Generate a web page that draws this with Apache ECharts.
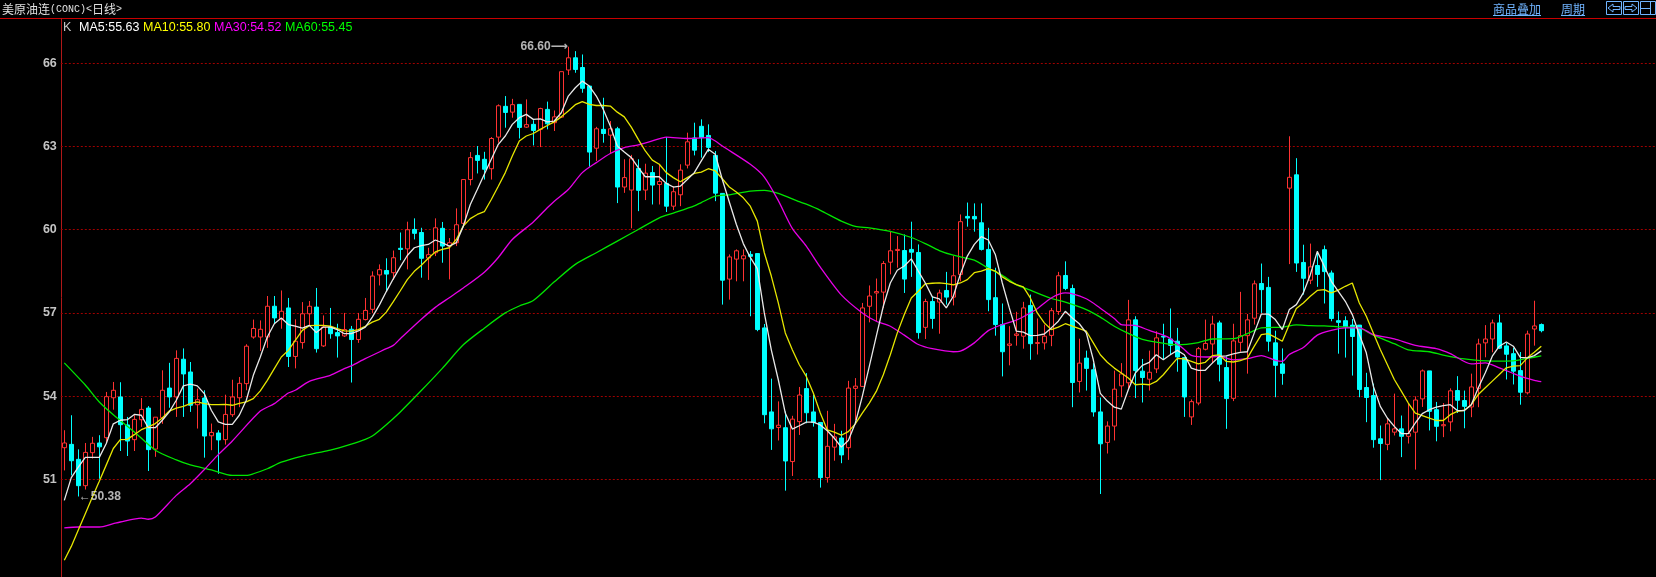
<!DOCTYPE html>
<html><head><meta charset="utf-8">
<style>html,body{margin:0;padding:0;background:#000}#c{width:1656px;height:577px}</style>
<script src="https://cdn.jsdelivr.net/npm/echarts@6/dist/echarts.min.js"></script>
</head><body><div id="c"></div>
<script>
const opens=[52.14,52.26,51.72,50.77,51.96,52.31,52.50,53.94,53.97,52.96,
52.43,53.15,53.57,52.09,53.22,54.29,53.97,55.33,54.87,53.69,
53.93,52.57,52.67,52.43,53.33,53.94,54.45,56.13,56.13,56.13,
57.24,56.79,57.18,55.43,55.93,56.97,57.21,55.81,56.49,56.29,
56.17,56.41,56.04,56.76,57.13,58.37,58.53,58.45,59.33,59.31,
60.01,59.9,58.98,59.17,60.05,59.41,59.53,60.23,61.81,62.68,
62.54,62.2,63.34,64.45,64.24,64.52,63.7,63.8,63.62,64.34,
63.86,64.06,65.76,66.2,65.85,65.18,62.94,63.62,63.41,63.64,
61.54,61.43,62.21,61.43,62.06,61.63,61.67,60.85,61.26,62.33,
63.31,63.73,63.4,62.68,61.31,58.22,58.94,58.95,59.11,59.14,
56.46,53.43,52.87,52.86,51.64,53.08,54.27,53.43,53.05,51.06,
52.16,52.49,52.14,54.28,54.35,57.24,57.72,57.75,58.83,59.25,
59.25,59.29,59.18,56.48,57.41,57.39,57.81,57.57,58.39,60.48,
60.48,60.25,59.29,57.55,56.58,55.83,56.19,56.16,57.27,55.9,
55.92,56.19,57.05,58.35,57.88,54.53,55.37,54.95,53.43,52.33,
52.92,54.37,54.48,56.75,54.9,54.61,54.98,56.16,56.06,55.98,
55.39,53.25,53.75,55.69,55.88,56.64,55.03,53.92,55.94,56.18,
56.81,58.06,57.92,55.92,55.16,61.5,61.98,58.82,58.18,58.71,
59.28,58.44,56.72,56.72,56.56,56.56,54.31,54.02,52.46,52.26,
52.7,52.82,52.55,52.7,53.9,54.91,53.51,52.93,53.07,54.2,
53.84,53.61,54.28,55.92,56.06,56.64,55.81,55.53,54.92,54.12,
56.42,56.58];
const closes=[52.31,51.67,50.77,51.97,52.30,52.17,53.98,54.21,52.97,52.38,
53.16,53.52,52.07,53.24,54.21,53.97,55.36,54.80,53.67,53.87,
52.56,52.69,52.42,53.34,53.97,54.46,55.80,56.44,56.41,57.24,
56.82,57.06,55.43,55.98,56.97,57.24,55.71,56.49,56.25,56.17,
56.40,56.04,56.77,57.09,58.33,58.56,58.40,58.99,59.29,60.0,
59.87,58.97,59.1,60.07,59.41,59.53,60.18,61.81,62.6,62.5,
62.18,63.29,64.47,64.23,64.51,63.69,63.79,63.58,64.37,63.82,
64.07,65.7,66.2,65.78,65.1,62.8,63.64,63.47,63.64,61.54,
61.88,62.56,61.42,62.04,61.61,61.74,60.85,61.37,62.15,63.17,
62.87,63.32,62.97,61.32,58.18,59.02,59.24,59.06,59.04,56.4,
53.33,52.82,52.95,51.66,53.17,54.04,53.4,53.05,51.06,52.19,
52.53,51.88,54.29,54.36,57.18,57.61,57.77,58.78,59.24,59.29,
58.22,59.19,56.29,57.41,56.8,57.72,57.57,58.34,60.29,60.42,
60.39,59.29,57.48,56.58,55.6,55.88,56.24,57.18,55.89,55.93,
56.16,57.08,58.34,57.88,54.49,55.19,55.0,53.43,52.28,52.92,
54.25,54.8,56.75,54.92,54.67,54.86,56.1,56.13,55.83,55.41,
53.97,53.8,55.71,55.9,56.6,55.15,53.91,55.99,56.18,56.75,
58.05,57.84,55.98,55.11,54.82,61.89,58.8,58.25,58.66,58.39,
58.49,56.8,56.66,56.5,56.15,54.24,53.95,52.43,52.29,53.0,
52.82,52.55,52.65,53.86,54.91,53.45,52.91,52.97,54.19,53.85,
53.63,54.33,55.88,56.06,56.64,55.73,55.51,54.9,54.14,56.24,
56.53,56.36];
const highs=[52.77,53.31,52.08,52.31,52.53,52.59,54.15,54.51,54.50,53.25,
53.31,53.93,53.64,53.24,54.93,55.2,55.65,55.72,55.23,54.27,
54.21,53.01,52.77,54.05,54.59,54.69,55.87,56.76,56.73,57.61,
57.61,57.81,57.54,56.77,57.39,57.43,57.9,56.91,57.18,56.61,
57.0,56.53,57.0,57.54,58.5,58.75,58.97,59.25,59.9,60.29,
60.41,60.07,59.35,60.41,60.28,59.7,60.77,61.81,62.8,63.02,
62.81,63.34,64.52,64.82,64.72,64.52,64.7,63.95,64.4,64.62,
64.3,65.7,66.6,66.44,66.32,65.18,63.71,64.76,63.92,63.71,
62.54,62.7,62.54,62.38,62.3,62.36,63.34,61.57,62.36,63.5,
63.86,63.98,63.8,62.84,61.31,59.11,59.29,59.29,59.23,59.14,
56.6,54.63,53.81,53.45,53.29,54.33,54.83,54.05,53.05,53.47,
53.0,52.75,54.55,54.65,57.36,57.99,58.24,58.87,59.95,59.77,
59.83,60.29,59.47,57.51,57.6,57.84,58.48,59.05,60.55,60.98,
60.95,60.95,60.07,58.63,57.34,56.52,57.04,57.4,57.66,56.8,
56.58,57.18,58.48,58.86,58.02,56.07,55.64,55.19,53.95,53.09,
54.92,55.19,57.47,56.88,55.34,55.64,56.34,56.61,57.16,56.46,
55.39,53.88,55.77,56.76,56.9,56.72,55.43,56.61,57.76,56.96,
58.17,58.78,58.3,56.36,55.72,63.37,62.58,59.46,59.5,59.23,
59.43,58.53,57.05,56.88,56.78,56.56,54.84,54.45,52.94,53.21,
54.09,53.3,53.75,53.99,54.96,54.91,53.79,53.75,54.28,54.72,
54.2,54.81,56.07,56.56,56.76,56.94,55.92,55.74,55.59,56.36,
57.44,56.62];
const lows=[51.32,51.14,50.38,50.63,51.75,51.02,52.35,53.51,52.02,51.84,
52.02,52.89,51.30,51.81,53.0,53.58,53.25,53.25,53.43,52.83,
51.78,52.05,51.2,52.25,53.25,53.6,54.21,56.07,55.63,55.74,
56.61,56.43,55.05,55.0,55.71,56.55,55.57,55.77,56.07,55.39,
56.13,54.49,55.92,56.73,57.0,57.99,57.79,58.19,58.9,58.57,
59.65,58.27,58.19,59.05,58.81,58.21,59.41,60.13,61.6,62.03,
61.81,61.81,63.14,63.68,64.04,63.29,63.67,63.04,62.98,63.62,
63.56,64.04,65.58,65.66,64.94,62.27,62.48,63.14,62.75,60.96,
61.33,60.05,60.67,61.07,60.91,60.91,60.64,60.71,60.85,62.21,
62.68,62.6,62.8,61.03,57.3,57.48,58.14,58.14,56.88,56.34,
53.02,52.06,52.4,50.59,51.12,52.6,53.02,52.9,50.7,50.88,
51.67,51.58,51.7,53.14,54.33,56.66,56.7,57.18,58.39,58.63,
57.72,58.3,56.07,56.06,56.43,56.25,57.3,57.27,58.14,60.11,
59.93,59.25,57.06,56.18,54.71,55.11,55.82,55.71,55.31,55.5,
55.68,55.8,56.93,57.82,53.6,54.13,54.2,53.26,50.47,51.93,
52.4,53.96,54.23,53.93,53.77,54.2,54.83,55.31,55.49,54.88,
53.25,52.96,53.67,55.65,55.19,54.53,52.82,53.82,55.6,54.81,
56.58,57.0,55.61,53.96,54.41,58.76,58.48,57.66,58.04,57.94,
57.34,56.7,55.53,55.39,54.74,53.96,53.06,52.14,50.97,52.05,
52.58,51.8,52.29,51.35,53.61,52.76,52.37,52.52,52.73,53.39,
52.84,53.24,53.6,55.4,55.58,55.7,54.6,54.42,53.69,54.06,
55.82,56.3];
const ma5=[50.24,51.06,51.44,51.79,51.79,51.79,52.29,53.0,53.13,53.15,
53.34,53.31,52.86,52.86,53.13,53.43,53.85,54.37,54.43,54.37,
54.09,53.49,53.07,52.98,52.98,53.31,53.85,54.75,55.41,56.13,
56.61,56.82,56.58,56.52,56.45,56.55,56.29,56.49,56.49,56.4,
56.25,56.25,56.35,56.49,56.85,57.28,57.77,58.23,58.66,59.07,
59.35,59.43,59.47,59.63,59.53,59.41,59.53,60.13,60.91,61.45,
62.0,62.54,63.08,63.38,63.8,64.04,64.16,63.98,64.0,63.89,
63.92,64.22,64.82,65.12,65.36,65.18,64.82,64.34,63.74,63.02,
62.8,62.6,62.24,61.91,61.91,61.91,61.67,61.54,61.57,61.81,
62.06,62.48,62.9,62.72,61.81,61.0,60.2,59.5,59.0,58.6,
57.0,55.67,54.59,53.39,52.81,52.93,53.06,53.06,52.96,52.75,
52.48,52.16,52.4,53.02,53.99,55.07,56.16,57.24,58.08,58.54,
58.69,58.95,58.51,58.08,57.58,57.51,57.18,57.6,58.39,59.05,
59.47,59.75,59.63,59.11,58.08,57.18,56.34,56.31,56.18,56.19,
56.24,56.46,56.7,57.06,56.82,56.61,56.28,55.31,54.1,53.82,
53.6,53.53,54.23,54.83,55.11,55.22,55.49,55.31,55.49,55.65,
55.49,55.01,54.93,54.93,55.19,55.43,55.45,55.52,55.58,55.6,
56.28,56.96,56.96,56.76,56.4,57.12,57.3,57.72,58.38,59.22,
58.68,58.14,57.78,57.42,56.94,56.22,55.56,54.36,53.63,53.21,
52.91,52.65,52.65,53.03,53.37,53.51,53.6,53.66,53.69,53.48,
53.48,53.69,54.3,54.84,55.44,55.8,55.95,55.8,55.4,55.38,
55.46,55.63];
const ma10=[48.08,48.58,49.17,49.76,50.35,50.93,51.52,52.11,52.43,52.44,
52.61,52.79,52.89,53.01,53.21,53.46,53.57,53.63,53.73,53.79,
53.73,53.69,53.69,53.7,53.67,53.74,53.79,53.91,54.19,54.57,
54.99,55.41,55.65,56.01,56.37,56.54,56.55,56.55,56.52,56.43,
56.35,56.34,56.4,56.52,56.67,56.77,57.03,57.41,57.8,58.2,
58.5,58.72,58.97,59.2,59.29,59.35,59.65,60.13,60.4,60.55,
60.65,61.09,61.57,62.06,62.66,63.2,63.38,63.47,63.62,63.76,
63.89,64.07,64.28,64.51,64.62,64.52,64.48,64.48,64.46,64.24,
64.07,63.7,63.26,62.84,62.51,62.36,62.06,61.88,61.73,61.88,
62.03,62.08,62.2,62.12,61.84,61.54,61.36,61.15,60.85,60.31,
59.17,58.33,57.36,56.28,55.67,55.13,54.71,54.11,53.39,52.78,
52.7,52.59,52.72,53.0,53.39,53.75,54.17,54.77,55.49,56.28,
56.94,57.54,57.78,58.05,58.07,58.08,58.06,58.01,58.08,58.2,
58.45,58.51,58.6,58.51,58.3,58.14,58.02,57.94,57.54,57.0,
56.64,56.4,56.49,56.61,56.52,56.43,56.34,55.92,55.49,55.22,
55.01,54.83,54.65,54.41,54.43,54.41,54.53,54.77,55.07,55.36,
55.34,55.25,55.16,55.22,55.46,55.49,55.25,55.23,55.28,55.37,
55.8,56.22,56.25,56.12,55.98,56.58,57.16,57.36,57.6,57.81,
57.84,57.72,57.82,57.96,58.08,57.36,56.88,56.28,55.68,55.14,
54.6,54.18,53.75,53.39,53.3,53.21,53.12,53.12,53.33,53.45,
53.49,53.69,54.06,54.3,54.54,54.78,55.02,55.08,55.1,55.38,
55.58,55.8];
const ma30=[[0,49.25],[2,49.28],[5,49.28],[7,49.4],[8,49.46],[11,49.6],[12,49.56],[13,49.64],[16,50.42],[18,50.84],[20,51.35],[22,51.89],[24,52.38],[28,53.46],[30,53.73],[32,54.11],[33,54.21],[35,54.53],[38,54.75],[40,54.99],[41,55.09],[43,55.35],[46,55.71],[47,55.83],[48,56.07],[51,56.77],[53,57.2],[55,57.55],[57,57.9],[60,58.47],[62,59.0],[64,59.65],[67,60.28],[69,60.79],[70,61.03],[72,61.45],[74,62.06],[76,62.42],[78,62.75],[80,62.96],[82,63.06],[84,63.2],[86,63.34],[89,63.29],[92,63.32],[93,63.2],[94,63.02],[98,62.36],[100,61.9],[102,61.05],[104,60.05],[106,59.41],[108,58.65],[111,57.65],[114,57.0],[116,56.7],[118,56.52],[120,56.2],[122,55.86],[124,55.71],[127,55.6],[128,55.62],[130,55.92],[132,56.36],[134,56.58],[136,56.74],[138,57.0],[139,57.15],[141,57.54],[143,57.72],[146,57.51],[148,57.17],[150,56.8],[151,56.58],[153,56.55],[155,56.37],[157,56.2],[158,56.08],[160,55.68],[161,55.47],[163,55.41],[165,55.43],[167,55.31],[169,55.35],[171,55.46],[173,55.29],[174,55.25],[175,55.5],[177,55.75],[179,56.2],[181,56.37],[183,56.46],[185,56.46],[187,56.22],[190,56.06],[193,55.83],[196,55.71],[198,55.53],[201,55.16],[203,55.2],[205,55.02],[208,54.72],[210,54.57],[211,54.52]];
const ma60=[[0,55.2],[3,54.4],[5,53.79],[7,53.33],[10,52.71],[13,52.05],[16,51.7],[18,51.52],[21,51.34],[24,51.14],[26,51.14],[27,51.2],[29,51.38],[31,51.62],[34,51.84],[36,51.95],[38,52.05],[41,52.27],[43,52.44],[44,52.56],[46,52.97],[48,53.43],[51,54.2],[54,55.0],[57,55.85],[60,56.45],[63,57.0],[65,57.25],[67,57.45],[70,58.12],[73,58.75],[76,59.17],[79,59.59],[82,60.01],[85,60.43],[87,60.6],[90,60.86],[91,60.98],[93,61.21],[95,61.26],[98,61.39],[100,61.42],[102,61.31],[105,61.01],[106,60.92],[108,60.7],[111,60.31],[113,60.12],[115,60.07],[118,59.94],[121,59.72],[123,59.5],[125,59.25],[127,59.08],[130,58.9],[132,58.61],[134,58.36],[136,58.02],[138,57.82],[141,57.52],[143,57.39],[146,57.12],[148,56.85],[150,56.52],[152,56.26],[154,56.05],[156,55.95],[159,55.85],[162,55.93],[164,56.06],[167,56.07],[169,56.25],[171,56.46],[174,56.49],[176,56.57],[178,56.54],[180,56.53],[182,56.5],[185,56.46],[187,56.2],[190,55.89],[192,55.67],[195,55.6],[197,55.48],[200,55.34],[204,55.26],[207,55.27],[209,55.36],[211,55.45]];
const yTicks={min:51,max:66,interval:3};
const extremes=[{idx:72,value:66.60,text:'66.60⟶',pos:'left'},{idx:2,value:50.38,text:'←50.38',pos:'right'}];
const indicatorText=[['K','#c8c8c8',63],['MA5:55.63','#ffffff',79],['MA10:55.80','#ffff00',143],['MA30:54.52','#ff00ff',214],['MA60:55.45','#00ff00',285]];
const categories=Array.from({length:228},(_,i)=>String(i));
const candleData=opens.map((o,i)=>[o,closes[i],lows[i],highs[i]]);
const BLUE='#70b4ff';
const lineSeries=(name,data,color,smooth)=>({name,type:'line',data,symbol:'none',clip:false,smooth,connectNulls:true,lineStyle:{color,width:1.3},itemStyle:{color},z:3});
const ui=[
 {type:'line',shape:{x1:0,y1:18.5,x2:1656,y2:18.5},style:{stroke:'#c80000',lineWidth:1}},
 {type:'line',shape:{x1:61.5,y1:18,x2:61.5,y2:577},style:{stroke:'#b01818',lineWidth:1}},
 {type:'text',x:2,y:3,style:{text:'{a|美原油连}{b|(CONC)<}{a|日线}{b|>}',rich:{a:{fontFamily:'Noto Sans CJK SC',fontSize:12,fill:'#e0e0e0'},b:{fontFamily:'Liberation Mono',fontSize:10,fill:'#e0e0e0'}}}},
 {type:'text',x:1493,y:3,style:{text:'商品叠加',fill:BLUE,font:'12px "Noto Sans CJK SC"'}},
 {type:'line',shape:{x1:1493,y1:15.5,x2:1541,y2:15.5},style:{stroke:BLUE,lineWidth:1}},
 {type:'text',x:1561,y:3,style:{text:'周期',fill:BLUE,font:'12px "Noto Sans CJK SC"'}},
 {type:'line',shape:{x1:1561,y1:15.5,x2:1585,y2:15.5},style:{stroke:BLUE,lineWidth:1}},
 {type:'rect',shape:{x:1606.5,y:1.5,width:15,height:13},style:{fill:'#000',stroke:BLUE,lineWidth:1}},
 {type:'rect',shape:{x:1623.5,y:1.5,width:15,height:13},style:{fill:'#000',stroke:BLUE,lineWidth:1}},
 {type:'rect',shape:{x:1640.5,y:1.5,width:15,height:13},style:{fill:'#000',stroke:BLUE,lineWidth:1}},
 {type:'polygon',shape:{points:[[1608,8],[1613,4],[1613,6.5],[1620,6.5],[1620,9.5],[1613,9.5],[1613,12]]},style:{fill:'#000',stroke:BLUE,lineWidth:1}},
 {type:'polygon',shape:{points:[[1637,8],[1632,4],[1632,6.5],[1625,6.5],[1625,9.5],[1632,9.5],[1632,12]]},style:{fill:'#000',stroke:BLUE,lineWidth:1}},
 {type:'line',shape:{x1:1641,y1:8.5,x2:1650,y2:8.5},style:{stroke:BLUE,lineWidth:1}},
 {type:'line',shape:{x1:1650.5,y1:2,x2:1650.5,y2:14},style:{stroke:BLUE,lineWidth:1}},
 ...indicatorText.map(([text,fill,x])=>({type:'text',x,y:21,style:{text,fill,font:'12.5px "Liberation Sans"'}}))
];
const chart=echarts.init(document.getElementById('c'),null,{renderer:'canvas',width:1656,height:577});
chart.setOption({
 backgroundColor:'#000',animation:false,
 grid:{left:60.8,width:1596,top:63.35,height:415.95,containLabel:false,outerBoundsMode:'none'},
 xAxis:{type:'category',data:categories,boundaryGap:true,axisLine:{show:false},axisTick:{show:false},axisLabel:{show:false},splitLine:{show:false}},
 yAxis:{type:'value',min:yTicks.min,max:yTicks.max,interval:yTicks.interval,
  axisLine:{show:false},axisTick:{show:false},
  axisLabel:{color:'#c4c4c4',fontFamily:'Liberation Sans',fontWeight:'bold',fontSize:12.5,margin:4},
  splitLine:{show:true,lineStyle:{color:'#a00000',type:[2,2],width:1}}},
 tooltip:{show:false},
 series:[
  {type:'candlestick',data:candleData,barWidth:5,clip:false,z:2,
   itemStyle:{color:'#000',color0:'#00ffff',borderColor:'#ff3232',borderColor0:'#00ffff',borderColorDoji:'#ff3232',borderWidth:1}},
  lineSeries('MA60',ma60,'#00e600',0.25),
  lineSeries('MA30',ma30,'#e600e6',0.25),
  lineSeries('MA10',ma10,'#e6e600',false),
  lineSeries('MA5',ma5,'#e8e8e8',false),
  {type:'scatter',clip:false,z:4,symbolSize:1,itemStyle:{color:'rgba(0,0,0,0)'},
   data:extremes.map(e=>({value:[e.idx,e.value],label:{show:true,position:e.pos,distance:0,formatter:e.text,color:'#e0e0e0',fontFamily:'"Liberation Sans","DejaVu Sans"',fontWeight:'bold',fontSize:12}}))}
 ],
 graphic:{elements:ui}
});
</script></body></html>
